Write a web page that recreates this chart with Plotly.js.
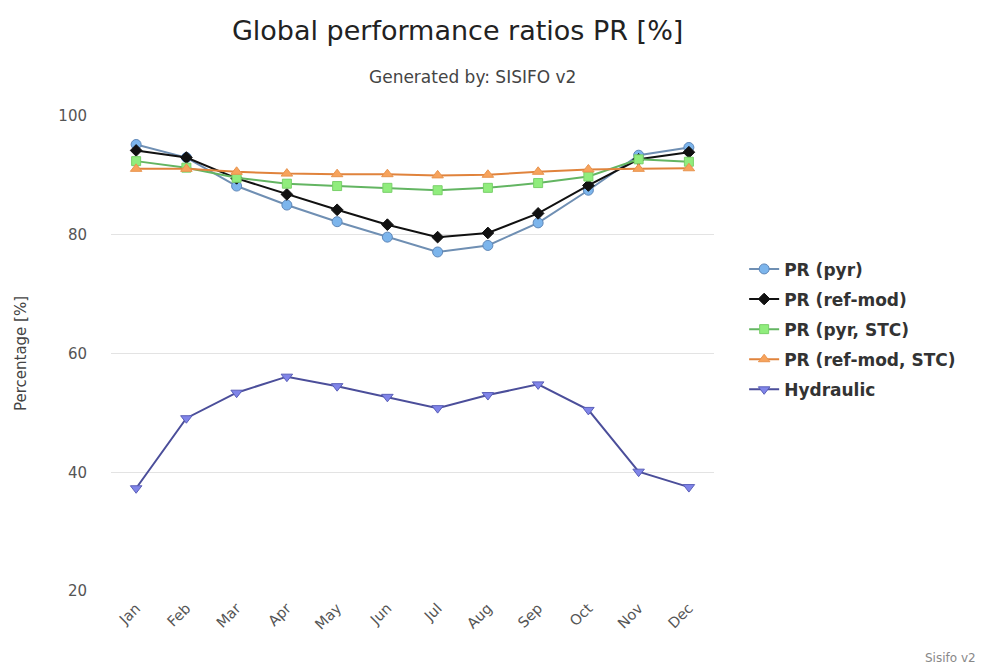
<!DOCTYPE html>
<html><head><meta charset="utf-8">
<script src="https://cdn.plot.ly/plotly-3.0.1.min.js"></script>
<style>html,body{margin:0;padding:0;background:#fff}#chart{width:982px;height:668px}</style>
</head><body><div id="chart"></div>
<script>
const months = ["Jan","Feb","Mar","Apr","May","Jun","Jul","Aug","Sep","Oct","Nov","Dec"];
const prPyr = [95.2, 93.0, 88.2, 85.0, 82.2, 79.6, 77.1, 78.2, 82.0, 87.5, 93.4, 94.7];
const prRefMod = [94.2, 93.0, 89.5, 86.8, 84.2, 81.7, 79.6, 80.3, 83.6, 88.3, 92.7, 93.9];
const prPyrStc = [92.4, 91.3, 89.6, 88.6, 88.2, 87.9, 87.5, 87.9, 88.7, 89.8, 92.7, 92.3];
const prRefModStc = [91.1, 91.1, 90.6, 90.3, 90.2, 90.2, 90.0, 90.1, 90.6, 91.0, 91.1, 91.2];
const hydraulic = [37.3, 49.1, 53.4, 56.1, 54.5, 52.7, 50.8, 53.0, 54.8, 50.5, 40.1, 37.5];

function tr(name, y, lineColor, markerColor, outline, symbol, size){
  return {type:'scatter', mode:'lines+markers', name:name, x:months, y:y, legendgroup:name,
    line:{color:lineColor, width:2},
    marker:{symbol:symbol, size:size, color:markerColor, line:{color:outline, width:1}}};
}
const data = [
  tr('PR (pyr)', prPyr, '#6f8fb3', '#7cb5ec', '#5f87b8', 'circle', 10),
  tr('PR (ref-mod)', prRefMod, '#111111', '#111111', '#111111', 'diamond', 9),
  tr('PR (pyr, STC)', prPyrStc, '#63b562', '#90ed7d', '#7ad06a', 'square', 9),
  tr('PR (ref-mod, STC)', prRefModStc, '#e0833c', '#f7a35c', '#e8944f', 'triangle-up', 10),
  tr('Hydraulic', hydraulic, '#4b4e9a', '#8085e9', '#5a5fb8', 'triangle-down', 10)
];
const layout = {
  width:982, height:668,
  paper_bgcolor:'#fff', plot_bgcolor:'#fff',
  margin:{l:111, r:268, t:116, b:77},
  font:{family:'"DejaVu Sans", "Open Sans", sans-serif', color:'#333'},
  title:{text:'Global performance ratios PR [%]', x:0.466, xanchor:'center', y:0.955, yanchor:'middle', font:{size:27, color:'#222'}},
  xaxis:{type:'category', range:[-0.5,11.5], tickangle:-45, showgrid:false, showline:false, zeroline:false, ticks:'',
    ticklabelstandoff:5, tickfont:{size:14.5, color:'#555'}},
  yaxis:{range:[20,100], tickvals:[20,40,60,80,100], showgrid:true, gridcolor:'#e3e3e3', gridwidth:1, zeroline:false, showline:false,
    tickfont:{size:15, color:'#555'}, ticks:'', ticklen:0, ticklabelstandoff:23,
    title:{text:'Percentage [%]', font:{size:15, color:'#444'}, standoff:28}},
  legend:{x:1.05, xanchor:'left', y:0.715, yanchor:'top', font:{size:17, color:'#333', weight:'bold'}, tracegroupgap:5, itemwidth:30, bgcolor:'rgba(0,0,0,0)'},
  annotations:[
    {text:'Generated by: SISIFO v2', xref:'paper', yref:'paper', x:0.6, y:1, xanchor:'center', yanchor:'bottom', yshift:27, showarrow:false, font:{size:17, color:'#444'}},
    {text:'Sisifo v2', xref:'paper', yref:'paper', x:1, y:0, xanchor:'right', yanchor:'middle', xshift:264, yshift:-67, showarrow:false, font:{size:12, color:'#888'}}
  ],
  showlegend:true
};
Plotly.newPlot('chart', data, layout, {displayModeBar:false, staticPlot:true});
</script></body></html>
